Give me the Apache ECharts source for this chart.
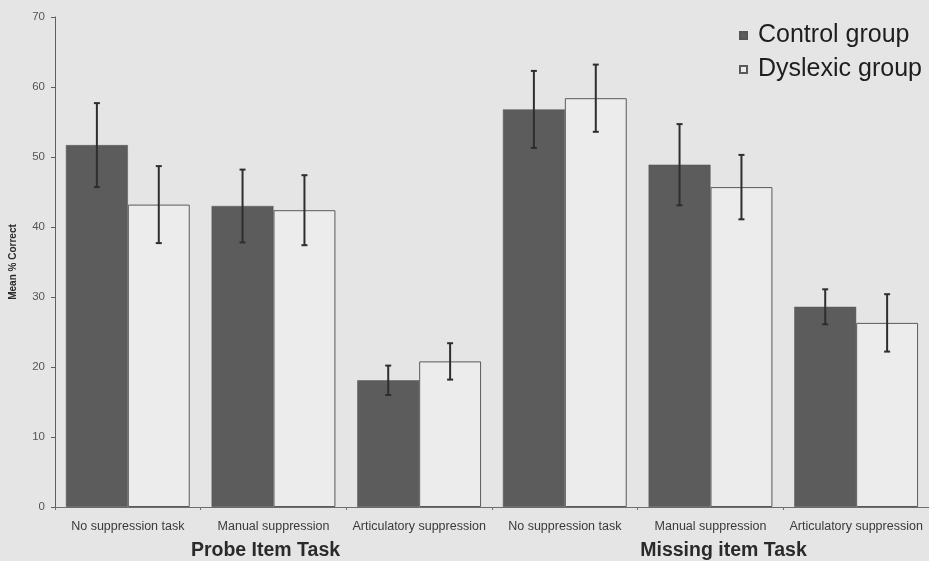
<!DOCTYPE html>
<html>
<head>
<meta charset="utf-8">
<script src="https://cdn.jsdelivr.net/npm/echarts@6/dist/echarts.min.js"></script>
<style>
  html, body { margin: 0; padding: 0; background: #e5e5e5; }
  #chart { width: 929px; height: 561px; }
</style>
</head>
<body>
<div id="chart"></div>
<script>
// Conditions (three per task) and the two task groups
const conditions = [
  'No suppression task', 'Manual suppression', 'Articulatory suppression',
  'No suppression task', 'Manual suppression', 'Articulatory suppression'
];
const taskLabels = ['Probe Item Task', 'Missing item Task'];

// Mean % correct and error (half-length of the bars) per group
const controlMeans   = [51.7, 43.0, 18.1, 56.8, 48.9, 28.6];
const controlErrors  = [6.0, 5.2, 2.1, 5.5, 5.8, 2.5];
const dyslexicMeans  = [43.2, 42.4, 20.8, 58.4, 45.7, 26.3];
const dyslexicErrors = [5.5, 5.0, 2.6, 4.8, 4.6, 4.1];

const yTicks = { min: 0, max: 70, interval: 10 };

const chart = echarts.init(document.getElementById('chart'), null, { renderer: 'canvas' });

const BAR_GAP_RATIO = 0.15;                // barCategoryGap
const barShare = (1 - BAR_GAP_RATIO) / 2;  // each bar's share of the band

// Error bar drawn at the centre of one of the two bars in a band
function errorBarRenderer(means, errors, side) {
  return function (params, api) {
    const i = api.value(0);
    const band = api.size([1, 0])[0];
    const dx = side * band * barShare / 2;
    const top = api.coord([i, means[i] + errors[i]]);
    const bot = api.coord([i, means[i] - errors[i]]);
    const x = top[0] + dx;
    const cap = 3;
    const style = { stroke: '#2e2e2e', lineWidth: 2 };
    return {
      type: 'group',
      children: [
        { type: 'line', shape: { x1: x, y1: top[1], x2: x, y2: bot[1] }, style },
        { type: 'line', shape: { x1: x - cap, y1: top[1], x2: x + cap, y2: top[1] }, style },
        { type: 'line', shape: { x1: x - cap, y1: bot[1], x2: x + cap, y2: bot[1] }, style }
      ]
    };
  };
}

const idx = conditions.map((_, i) => [i]);

const taskStyle = { fontSize: 19.5, fontWeight: 'bold', color: '#2a2a2a' };

chart.setOption({
  backgroundColor: '#e5e5e5',
  animation: false,
  textStyle: { fontFamily: 'Liberation Sans, Arial, sans-serif' },
  grid: { left: 52, top: 17, width: 883, height: 491, containLabel: false },
  legend: {
    orient: 'vertical',
    left: 734,
    top: 18,
    itemWidth: 7,
    itemHeight: 7,
    itemGap: 9,
    icon: 'rect',
    textStyle: { fontSize: 25, color: '#1e1e1e', padding: [0, 0, 0, 6] },
    data: ['Control group', 'Dyslexic group']
  },
  xAxis: [
    {
      type: 'category',
      data: conditions,
      axisLine: { lineStyle: { color: '#6e6e6e', width: 1 } },
      axisTick: { show: true, length: 3, lineStyle: { color: '#6e6e6e' } },
      axisLabel: { interval: 0, fontSize: 12.5, color: '#3a3a3a', margin: 13 }
    },
    {
      type: 'category',
      data: taskLabels,
      position: 'bottom',
      axisLine: { show: false },
      axisTick: { show: false },
      axisLabel: {
        interval: 0,
        margin: 34,
        formatter: (v, i) => (i === 0 ? '{p|' + v + '}' : '{m|' + v + '}'),
        rich: {
          p: Object.assign({ padding: [0, 16, 0, 0] }, taskStyle),
          m: Object.assign({ padding: [0, 0, 0, 26] }, taskStyle)
        }
      }
    }
  ],
  yAxis: {
    type: 'value',
    min: yTicks.min,
    max: yTicks.max,
    interval: yTicks.interval,
    name: 'Mean % Correct',
    nameLocation: 'middle',
    nameGap: 37,
    nameTextStyle: { fontSize: 10, fontWeight: 'bold', color: '#2a2a2a' },
    axisLine: { show: true, lineStyle: { color: '#5e5e5e', width: 1 } },
    axisTick: { show: true, inside: false, length: 4, lineStyle: { color: '#5e5e5e' } },
    axisLabel: { fontSize: 11.5, color: '#555', margin: 10 },
    splitLine: { show: false }
  },
  series: [
    {
      name: 'Control group',
      type: 'bar',
      data: controlMeans,
      barGap: '0%',
      barCategoryGap: (BAR_GAP_RATIO * 100) + '%',
      itemStyle: { color: '#5c5c5c', borderColor: '#555', borderWidth: 0.5 }
    },
    {
      name: 'Dyslexic group',
      type: 'bar',
      data: dyslexicMeans,
      itemStyle: { color: '#ececec', borderColor: '#5a5a5a', borderWidth: 1 }
    },
    {
      type: 'custom',
      data: idx,
      renderItem: errorBarRenderer(controlMeans, controlErrors, -1),
      z: 5,
      silent: true
    },
    {
      type: 'custom',
      data: idx,
      renderItem: errorBarRenderer(dyslexicMeans, dyslexicErrors, 1),
      z: 5,
      silent: true
    }
  ]
});
</script>
</body>
</html>
